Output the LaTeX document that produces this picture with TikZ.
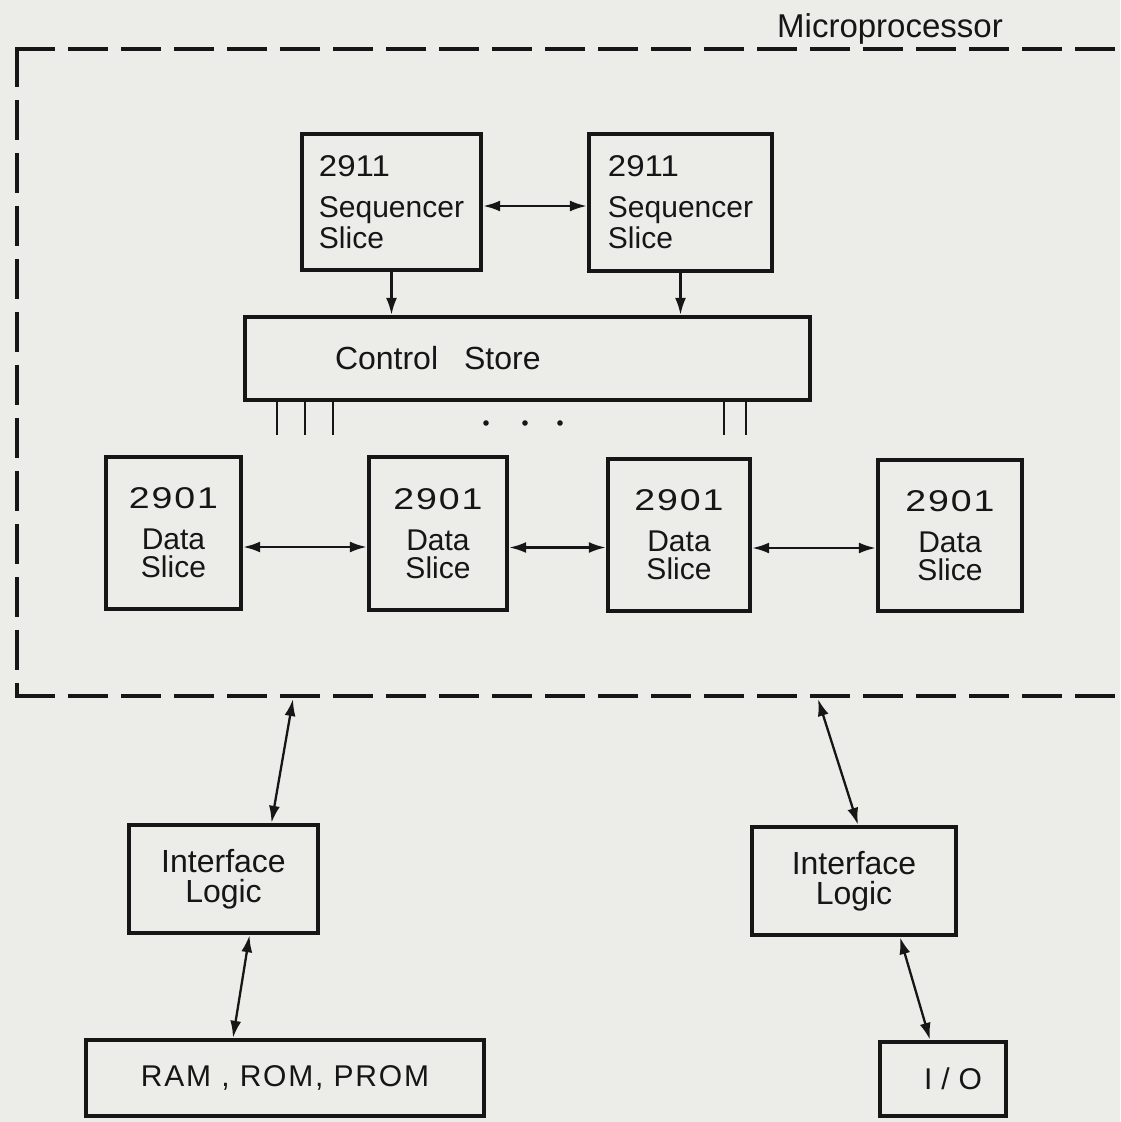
\documentclass[tikz,border=0pt]{standalone}
\usepackage{fontspec}
\usepackage{graphicx}
\setmainfont{Liberation Sans}
\usetikzlibrary{arrows.meta}

\definecolor{paper}{RGB}{236,236,233}
\definecolor{ink}{RGB}{22,22,22}

\newcommand{\boxfont}{\fontsize{30}{31}\selectfont}
% part numbers are set in wide figures
\newcommand{\chipno}[2][5]{\scalebox{1.25}[1]{\addfontfeature{LetterSpace=#1}#2}}
\newcommand{\wide}[2]{{\addfontfeature{LetterSpace=#1}#2}}

\begin{document}
\begin{tikzpicture}[x=1pt,y=-1pt,
  blk/.style={draw=ink, line width=4.4pt, inner sep=0pt, font=\boxfont, text=ink},
  link/.style={draw=ink, line width=2.3pt, {Latex[length=17pt,width=11pt]}-{Latex[length=17pt,width=11pt]}},
  feed/.style={draw=ink, line width=2.3pt, -{Latex[length=17pt,width=11pt]}},
  bus/.style={draw=ink, line width=2.8pt},
  boundary/.style={draw=ink, line width=4.6pt, dash pattern=on 40pt off 13pt},
]
\useasboundingbox (0,0) rectangle (1120,1122);
\fill[paper] (0,0) rectangle (1120,1122);

% microprocessor boundary
\draw[boundary] (15,49) -- (1120,49);
\draw[boundary] (17,47) -- (17,696);
\draw[boundary] (15,696) -- (1120,696);
\node[anchor=base, font=\fontsize{33}{33}\selectfont, text=ink, inner sep=0pt] (mplabel) at (890,37) {Microprocessor};

% sequencer slices
\node[blk, minimum width=179pt, minimum height=136pt, align=left] (seq1) at (391.5,202)
  {\scalebox{1.1}[1]{2911}\\[10pt]Sequencer\\Slice};
\node[blk, minimum width=183pt, minimum height=137pt, align=left] (seq2) at (680.5,202.5)
  {\scalebox{1.1}[1]{2911}\\[10pt]Sequencer\\Slice};

% control store
\node[blk, text width=565pt, minimum height=83pt, align=left, font=\fontsize{32}{32}\selectfont] (cs) at (527.5,358.5)
  {\hspace*{90pt}Control\hspace{26pt}Store};

% data slices
\node[blk, minimum width=135pt, minimum height=152pt, align=center] (d1) at (173.5,533)
  {\chipno{2901}\\[10pt]Data\\[-3pt]Slice};
\node[blk, minimum width=138pt, minimum height=153pt, align=center] (d2) at (438,533.5)
  {\chipno{2901}\\[10pt]Data\\[-3pt]Slice};
\node[blk, minimum width=142pt, minimum height=152pt, align=center] (d3) at (679,535)
  {\chipno{2901}\\[10pt]Data\\[-3pt]Slice};
\node[blk, minimum width=144pt, minimum height=151pt, align=center] (d4) at (950,535.5)
  {\chipno{2901}\\[10pt]Data\\[-3pt]Slice};

% outside the microprocessor
\node[blk, minimum width=189pt, minimum height=108pt, align=center, font=\fontsize{32}{30}\selectfont] (if1) at (223.5,879)
  {Interface\\Logic};
\node[blk, minimum width=204pt, minimum height=108pt, align=center, font=\fontsize{32}{30}\selectfont] (if2) at (854,881)
  {Interface\\Logic};
\node[blk, minimum width=398pt, minimum height=76pt] (mem) at (285,1078)
  {\wide{6}{RAM , ROM, PROM}};
\node[blk, minimum width=126pt, minimum height=74pt] (io) at (943,1079)
  {\hspace*{20pt}\wide{30}{I/O}};

% sequencer links
\draw[link] ([yshift=-4pt]seq1.east) -- ([yshift=-4pt]seq1.east -| seq2.west);
\draw[feed] (seq1.south) -- (seq1.south |- cs.north);
\draw[feed] (seq2.south) -- (seq2.south |- cs.north);

% control store outputs
\coordinate (t1) at (277,435);
\coordinate (t2) at (305,435);
\coordinate (t3) at (333,435);
\coordinate (t4) at (724,435);
\coordinate (t5) at (746,435);
\foreach \t in {t1,t2,t3,t4,t5} \draw[bus] (\t |- cs.south) -- (\t);
\foreach \x in {486,525,560} \fill[ink] (\x,423) circle[radius=2.8pt];

% data slice links
\draw[link] ([yshift=-14pt]d1.east) -- ([yshift=-14pt]d1.east -| d2.west);
\draw[link] ([yshift=-14pt]d2.east) -- ([yshift=-14pt]d2.east -| d3.west);
\draw[link] ([yshift=-13pt]d3.east) -- ([yshift=-13pt]d3.east -| d4.west);

% external connections
\coordinate (mpL) at (293,699);
\coordinate (mpR) at (818,699);
\draw[link] (mpL) -- ([xshift=48pt]if1.north);
\draw[link] ([xshift=26pt]if1.south) -- ([xshift=-52pt]mem.north);
\draw[link] (mpR) -- ([xshift=4pt]if2.north);
\draw[link] ([xshift=46pt]if2.south) -- ([xshift=-13pt]io.north);
\end{tikzpicture}
\end{document}
